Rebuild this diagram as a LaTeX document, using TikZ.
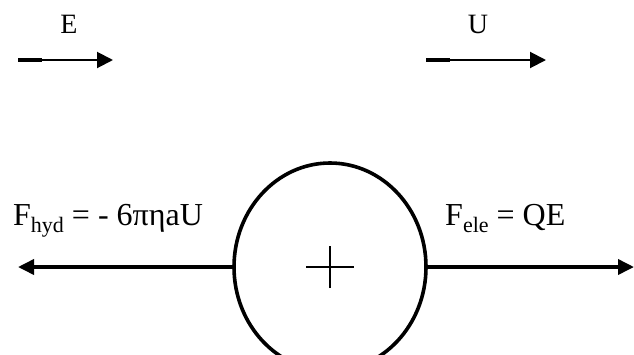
\documentclass[tikz,border=0pt]{standalone}
\usepackage{fontspec}
\setmainfont{Liberation Serif}
\usetikzlibrary{arrows.meta, shapes.geometric}
\newcommand{\lowsub}[1]{\raisebox{-0.22em}{\fontsize{22}{22}\selectfont #1}}

\begin{document}
\begin{tikzpicture}[x=1pt, y=-1pt,
    force/.style={line width=3.6pt, -{Triangle[length=16pt, width=15pt]}},
    vector/.style={line width=2pt, -{Triangle[length=16pt, width=16pt]}},
    vecstub/.style={line width=4pt},
    biglabel/.style={font=\fontsize{32}{38}\selectfont, inner sep=0pt},
    veclabel/.style={font=\fontsize{28}{32}\selectfont, inner sep=0pt}
]
  \useasboundingbox (0,0) rectangle (634,354);

  % Feld und Geschwindigkeit oben
  \coordinate (Estart) at (18,60);
  \coordinate (Eend) at (113,60);
  \coordinate (Ustart) at (426,60);
  \coordinate (Uend) at (546,60);
  \node[veclabel, anchor=base] (Elabel) at (69,33) {E};
  \node[veclabel, anchor=base] (Ulabel) at (478,33) {U};
  \draw[vector] (Estart) -- (Eend);
  \draw[vecstub] (Estart) -- ++(24,0);
  \draw[vector] (Ustart) -- (Uend);
  \draw[vecstub] (Ustart) -- ++(24,0);

  % Teilchen mit Ladung
  \node[draw, ellipse, line width=3.6pt, minimum width=192pt, minimum height=208pt,
        inner sep=0pt, outer sep=0pt] (particle) at (330,267) {};
  \draw[line width=1.5pt] ([xshift=-24pt]particle.center) -- ([xshift=24pt]particle.center);
  \draw[line width=1.5pt] ([yshift=-21pt]particle.center) -- ([yshift=21pt]particle.center);

  % Kraefte links und rechts
  \coordinate (hydtip) at (18,267);
  \coordinate (eletip) at (634,267);
  \draw[force] (particle.west) -- (hydtip);
  \draw[force] (particle.east) -- (eletip);
  \node[biglabel, anchor=base west] (hydlabel) at (13,225) {F\lowsub{hyd} = - 6πηaU};
  \node[biglabel, anchor=base west] (elelabel) at (445,225) {F\lowsub{ele} = QE};

\end{tikzpicture}
\end{document}
